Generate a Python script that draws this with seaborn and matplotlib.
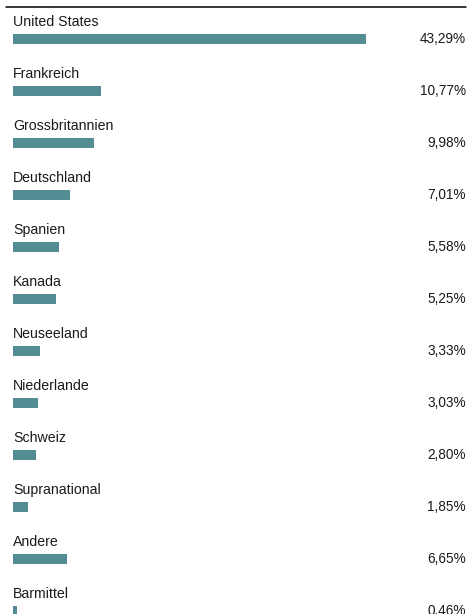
import matplotlib
matplotlib.use('Agg')
import matplotlib.pyplot as plt
import seaborn as sns
import pandas as pd

# Länderaufteilung (in %)
laender = ['United States', 'Frankreich', 'Grossbritannien', 'Deutschland', 'Spanien',
           'Kanada', 'Neuseeland', 'Niederlande', 'Schweiz', 'Supranational',
           'Andere', 'Barmittel']
anteile = [43.29, 10.77, 9.98, 7.01, 5.58, 5.25, 3.33, 3.03, 2.80, 1.85, 6.65, 0.46]
beschriftung = ['43,29%', '10,77%', '9,98%', '7,01%', '5,58%', '5,25%', '3,33%',
                '3,03%', '2,80%', '1,85%', '6,65%', '0,46%']

df = pd.DataFrame({'land': laender, 'anteil': anteile})

sns.set_style('white')
plt.rcParams['font.family'] = ['Liberation Sans', 'DejaVu Sans']

fig = plt.figure(figsize=(4.68, 6.14), dpi=100)
ax = fig.add_axes([0, 0, 1, 1])

sns.barplot(data=df, x='anteil', y='land', orient='h', color='#538c93',
            saturation=1, width=0.2, linewidth=0, ax=ax)

ax.set_xlim(-1.594, 55.79)
ax.set_ylim(11.058, -0.75)

for i, (name, txt) in enumerate(zip(laender, beschriftung)):
    ax.text(0, i - 0.33, name, ha='left', va='center', fontsize=10.2, color='#1a1a1a')
    ax.text(55.55, i, txt, ha='right', va='center', fontsize=9.8, color='#1a1a1a')

# Linie oben
ax.plot([-0.858, 55.55], [-0.615, -0.615], color='black', lw=1.1, clip_on=False)

ax.set_axis_off()

plt.savefig('out.png', dpi=100)
